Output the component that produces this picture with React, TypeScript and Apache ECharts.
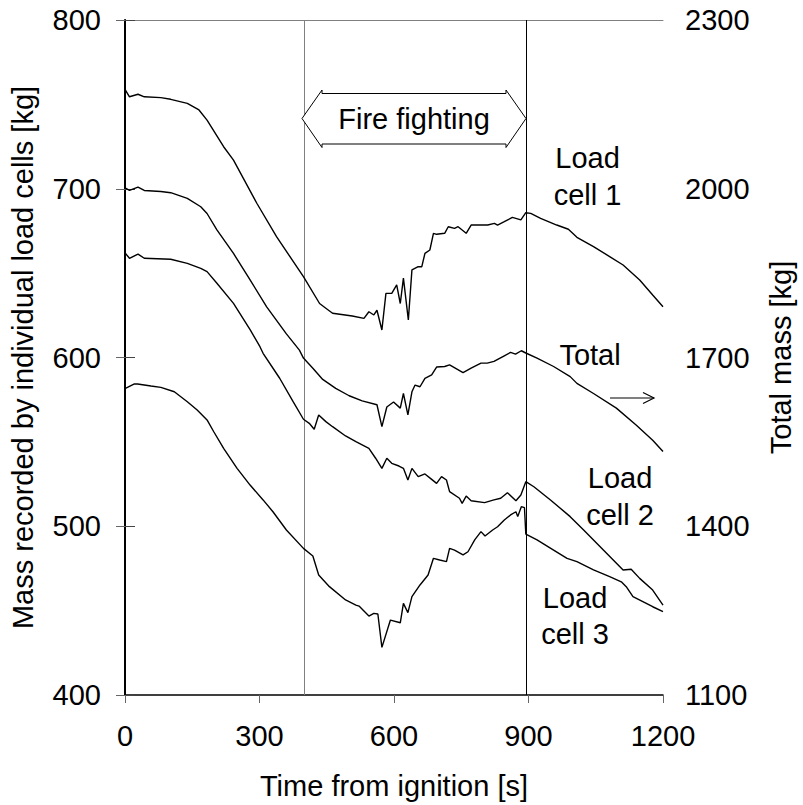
import React, { useEffect, useRef } from "react";
import * as echarts from "echarts";

// ---- Data ----
const cell1Time = [1, 10, 29, 43, 80, 102, 139, 165, 183, 220, 242, 294, 338, 398, 434, 448, 463, 507, 533, 544, 555, 562, 573, 582, 595, 606, 614, 621, 632, 640, 654, 662, 669, 680, 688, 695, 713, 721, 735, 743, 761, 772, 809, 824, 831, 846, 864, 883, 894, 905, 927, 963, 989, 1008, 1045, 1081, 1111, 1148, 1177, 1200];
const cell1Mass = [758.5, 754.5, 756, 754.5, 754, 753, 750.6, 746.7, 740.7, 724.9, 717, 691.4, 671.6, 647.9, 632, 629.2, 626.2, 624.6, 623.2, 627.1, 625.2, 628, 616.3, 638, 638, 643, 632, 647, 622.2, 651.9, 653.8, 653.8, 661.7, 663.7, 673.6, 673, 673.6, 677.5, 676.5, 677.5, 673.6, 678.5, 678.5, 679.5, 678.5, 680.5, 683, 681.6, 685.8, 685.4, 682.5, 678.5, 676, 671.2, 665.7, 659.8, 654.8, 645.9, 637, 630.1];

const totalTime = [1, 10, 29, 43, 80, 102, 139, 169, 183, 205, 242, 279, 316, 360, 389, 398, 419, 441, 470, 500, 529, 562, 573, 584, 599, 614, 621, 631, 640, 647, 658, 669, 684, 695, 713, 724, 754, 772, 794, 808, 823, 846, 860, 871, 884, 894, 919, 956, 993, 1008, 1045, 1096, 1140, 1177, 1200];
const totalMass = [2001, 1997, 2003, 1997, 1995, 1993, 1983, 1968, 1956, 1927, 1885, 1838, 1790, 1742, 1713, 1699, 1681, 1661, 1645, 1632, 1623, 1616, 1577, 1612, 1621, 1610, 1636, 1598, 1639, 1651, 1648, 1663, 1669, 1683, 1684, 1687, 1673, 1681, 1690, 1690, 1693, 1703, 1709, 1706, 1712, 1708, 1699, 1684, 1666, 1654, 1636, 1610, 1580, 1553, 1533];

const cell2Time = [1, 10, 29, 43, 102, 139, 169, 183, 205, 242, 279, 301, 308, 345, 375, 398, 411, 422, 432, 448, 463, 492, 515, 544, 559, 573, 584, 595, 611, 621, 631, 640, 654, 669, 684, 695, 706, 717, 724, 746, 752, 761, 772, 802, 823, 838, 853, 872, 883, 894, 912, 949, 993, 1023, 1067, 1111, 1129, 1148, 1177, 1200];
const cell2Mass = [661.7, 658.8, 661.3, 658.8, 658.2, 655.8, 652.8, 650.9, 644, 632.1, 616.5, 606.4, 602.5, 587.7, 573.8, 563.4, 561, 557.5, 565.9, 562, 559, 553.5, 550.1, 546.2, 540.3, 534.3, 540.3, 537.3, 535.7, 534.3, 527.4, 534.3, 529.4, 531, 527.8, 525.4, 529.4, 527.4, 520.5, 516.6, 513.6, 517.9, 515.1, 514, 515.6, 516.6, 519.9, 515.1, 518.5, 526.4, 523.4, 515.6, 505.7, 497.8, 485.9, 474.1, 474.5, 469.1, 462.2, 453.3];

const cell3Time = [1, 21, 28, 58, 80, 110, 139, 161, 183, 198, 220, 250, 279, 308, 330, 360, 398, 419, 432, 456, 492, 515, 522, 544, 555, 564, 573, 592, 614, 621, 631, 640, 658, 676, 688, 702, 717, 724, 735, 754, 765, 780, 794, 803, 820, 831, 846, 860, 872, 876, 884, 891, 894, 919, 956, 986, 1008, 1045, 1081, 1107, 1118, 1133, 1155, 1177, 1200];
const cell3Mass = [581.7, 584.3, 584.3, 583.1, 582.3, 579.7, 573.8, 568.9, 563, 556, 546.2, 534.3, 524.4, 515.6, 508.6, 497.8, 486.9, 482.4, 471.1, 464.2, 456.3, 453.3, 452.7, 446.8, 448.4, 448, 428.2, 444.4, 442.8, 454.3, 448.8, 458.3, 465.2, 471.1, 481, 480, 479, 486.9, 485.9, 483, 484.9, 491.9, 496.8, 494.2, 497.8, 499.7, 503.7, 506.7, 508.6, 505.7, 511.6, 511, 495.4, 491.9, 485.9, 481, 479, 474.1, 470.1, 467.1, 464.2, 458.3, 455.3, 452.3, 449.4];

const xTicks = [0, 300, 600, 900, 1200];
const leftTicks = [400, 500, 600, 700, 800];
const rightTicks = [1100, 1400, 1700, 2000, 2300];
const fireStart = 400;
const fireEnd = 894;

const FONT = "Liberation Sans, Arial, Helvetica, sans-serif";
const FS = 29;

function pairs(t: number[], v: number[]) {
  return t.map((x, i) => [x, v[i]]);
}

const plain = (v: number) => String(v);

export default function App() {
  const ref = useRef<HTMLDivElement>(null);
  useEffect(() => {
    if (!ref.current) return;
    const chart = echarts.init(ref.current, null, { renderer: "svg" });
    const lineStyle = { color: "#000", width: 1.4 };
    const txt = (text: string, x: number, y: number, lh = 37) => ({
      type: "text",
      x,
      y,
      z: 100,
      style: {
        text,
        fill: "#000",
        fontSize: FS,
        fontFamily: FONT,
        align: "center",
        verticalAlign: "middle",
        lineHeight: lh,
      },
    });
    chart.setOption({
      animation: false,
      backgroundColor: "#fff",
      grid: { left: 124, right: 136, top: 20, bottom: 110, containLabel: false },
      xAxis: [
        {
          type: "value",
          min: 0,
          max: 1200,
          interval: 300,
          name: "Time from ignition [s]",
          nameLocation: "middle",
          nameGap: 76,
          nameTextStyle: { fontSize: FS, fontFamily: FONT, color: "#000" },
          axisLine: { show: true, lineStyle: { color: "#000", width: 1.5 } },
          axisTick: { show: true, inside: false, length: 8, lineStyle: { color: "#666", width: 1 }, customValues: xTicks },
          axisLabel: { fontSize: FS, fontFamily: FONT, color: "#000", margin: 26, customValues: xTicks, formatter: plain },
          splitLine: { show: false },
        },
        {
          type: "value",
          position: "top",
          min: 0,
          max: 1200,
          axisLine: { show: true, lineStyle: { color: "#808080", width: 1 } },
          axisTick: { show: false },
          axisLabel: { show: false },
          splitLine: { show: false },
        },
      ],
      yAxis: [
        {
          type: "value",
          min: 400,
          max: 800,
          interval: 100,
          position: "left",
          name: "Mass recorded by individual load cells [kg]",
          nameLocation: "middle",
          nameGap: 88,
          nameTextStyle: { fontSize: FS, fontFamily: FONT, color: "#000" },
          axisLine: { show: true, lineStyle: { color: "#000", width: 2 } },
          axisTick: { show: true, inside: false, length: 9, lineStyle: { color: "#666", width: 1 }, customValues: leftTicks },
          axisLabel: { fontSize: FS, fontFamily: FONT, color: "#000", margin: 24, customValues: leftTicks, formatter: plain },
          splitLine: { show: false },
        },
        {
          type: "value",
          min: 1100,
          max: 2300,
          position: "right",
          name: "Total mass [kg]",
          nameLocation: "middle",
          nameGap: 103,
          nameTextStyle: { fontSize: FS, fontFamily: FONT, color: "#000" },
          axisLine: { show: true, lineStyle: { color: "#000", width: 1 } },
          axisTick: { show: true, inside: false, length: 10, lineStyle: { color: "#444", width: 1 }, customValues: rightTicks },
          axisLabel: { fontSize: FS, fontFamily: FONT, color: "#000", margin: 22, customValues: rightTicks, formatter: plain },
          splitLine: { show: false },
        },
      ],
      series: [
        {
          name: "Load cell 1",
          type: "line",
          data: pairs(cell1Time, cell1Mass),
          showSymbol: false,
          symbol: "none",
          lineStyle,
          z: 5,
          markLine: {
            silent: true,
            symbol: "none",
            label: { show: false },
            data: [
              { xAxis: fireStart, lineStyle: { color: "#808080", width: 1, type: "solid" } },
              { xAxis: fireEnd, lineStyle: { color: "#000", width: 1, type: "solid" } },
            ],
          },
        },
        {
          name: "Total",
          type: "line",
          yAxisIndex: 1,
          data: pairs(totalTime, totalMass),
          showSymbol: false,
          symbol: "none",
          lineStyle,
          z: 5,
        },
        {
          name: "Load cell 2",
          type: "line",
          data: pairs(cell2Time, cell2Mass),
          showSymbol: false,
          symbol: "none",
          lineStyle,
          z: 5,
        },
        {
          name: "Load cell 3",
          type: "line",
          data: pairs(cell3Time, cell3Mass),
          showSymbol: false,
          symbol: "none",
          lineStyle,
          z: 5,
        },
      ],
      graphic: [
        {
          type: "polygon",
          z: 90,
          shape: {
            points: [
              [302, 118.5], [322, 90], [322, 93.5], [506, 93.5], [506, 90],
              [526, 118.5], [506, 147.5], [506, 144], [322, 144], [322, 147.5],
            ],
          },
          style: { fill: "#fff", stroke: "#000", lineWidth: 1 },
        },
        txt("Fire fighting", 414, 119),
        txt("Load\ncell 1", 587.5, 176.5),
        txt("Total", 590, 355),
        txt("Load\ncell 2", 620, 496.5),
        txt("Load\ncell 3", 575, 616, 36),
        {
          type: "line",
          z: 90,
          shape: { x1: 610, y1: 398, x2: 654, y2: 398 },
          style: { stroke: "#000", lineWidth: 1.2 },
        },
        {
          type: "polyline",
          z: 90,
          shape: { points: [[643, 392.5], [654, 398], [643, 403.5]] },
          style: { stroke: "#000", lineWidth: 1.2, fill: null },
        },
      ],
    });
    return () => chart.dispose();
  }, []);
  return (
    <div
      ref={ref}
      style={{ position: "fixed", left: 0, top: 0, width: 803, height: 805, background: "#fff" }}
    />
  );
}
